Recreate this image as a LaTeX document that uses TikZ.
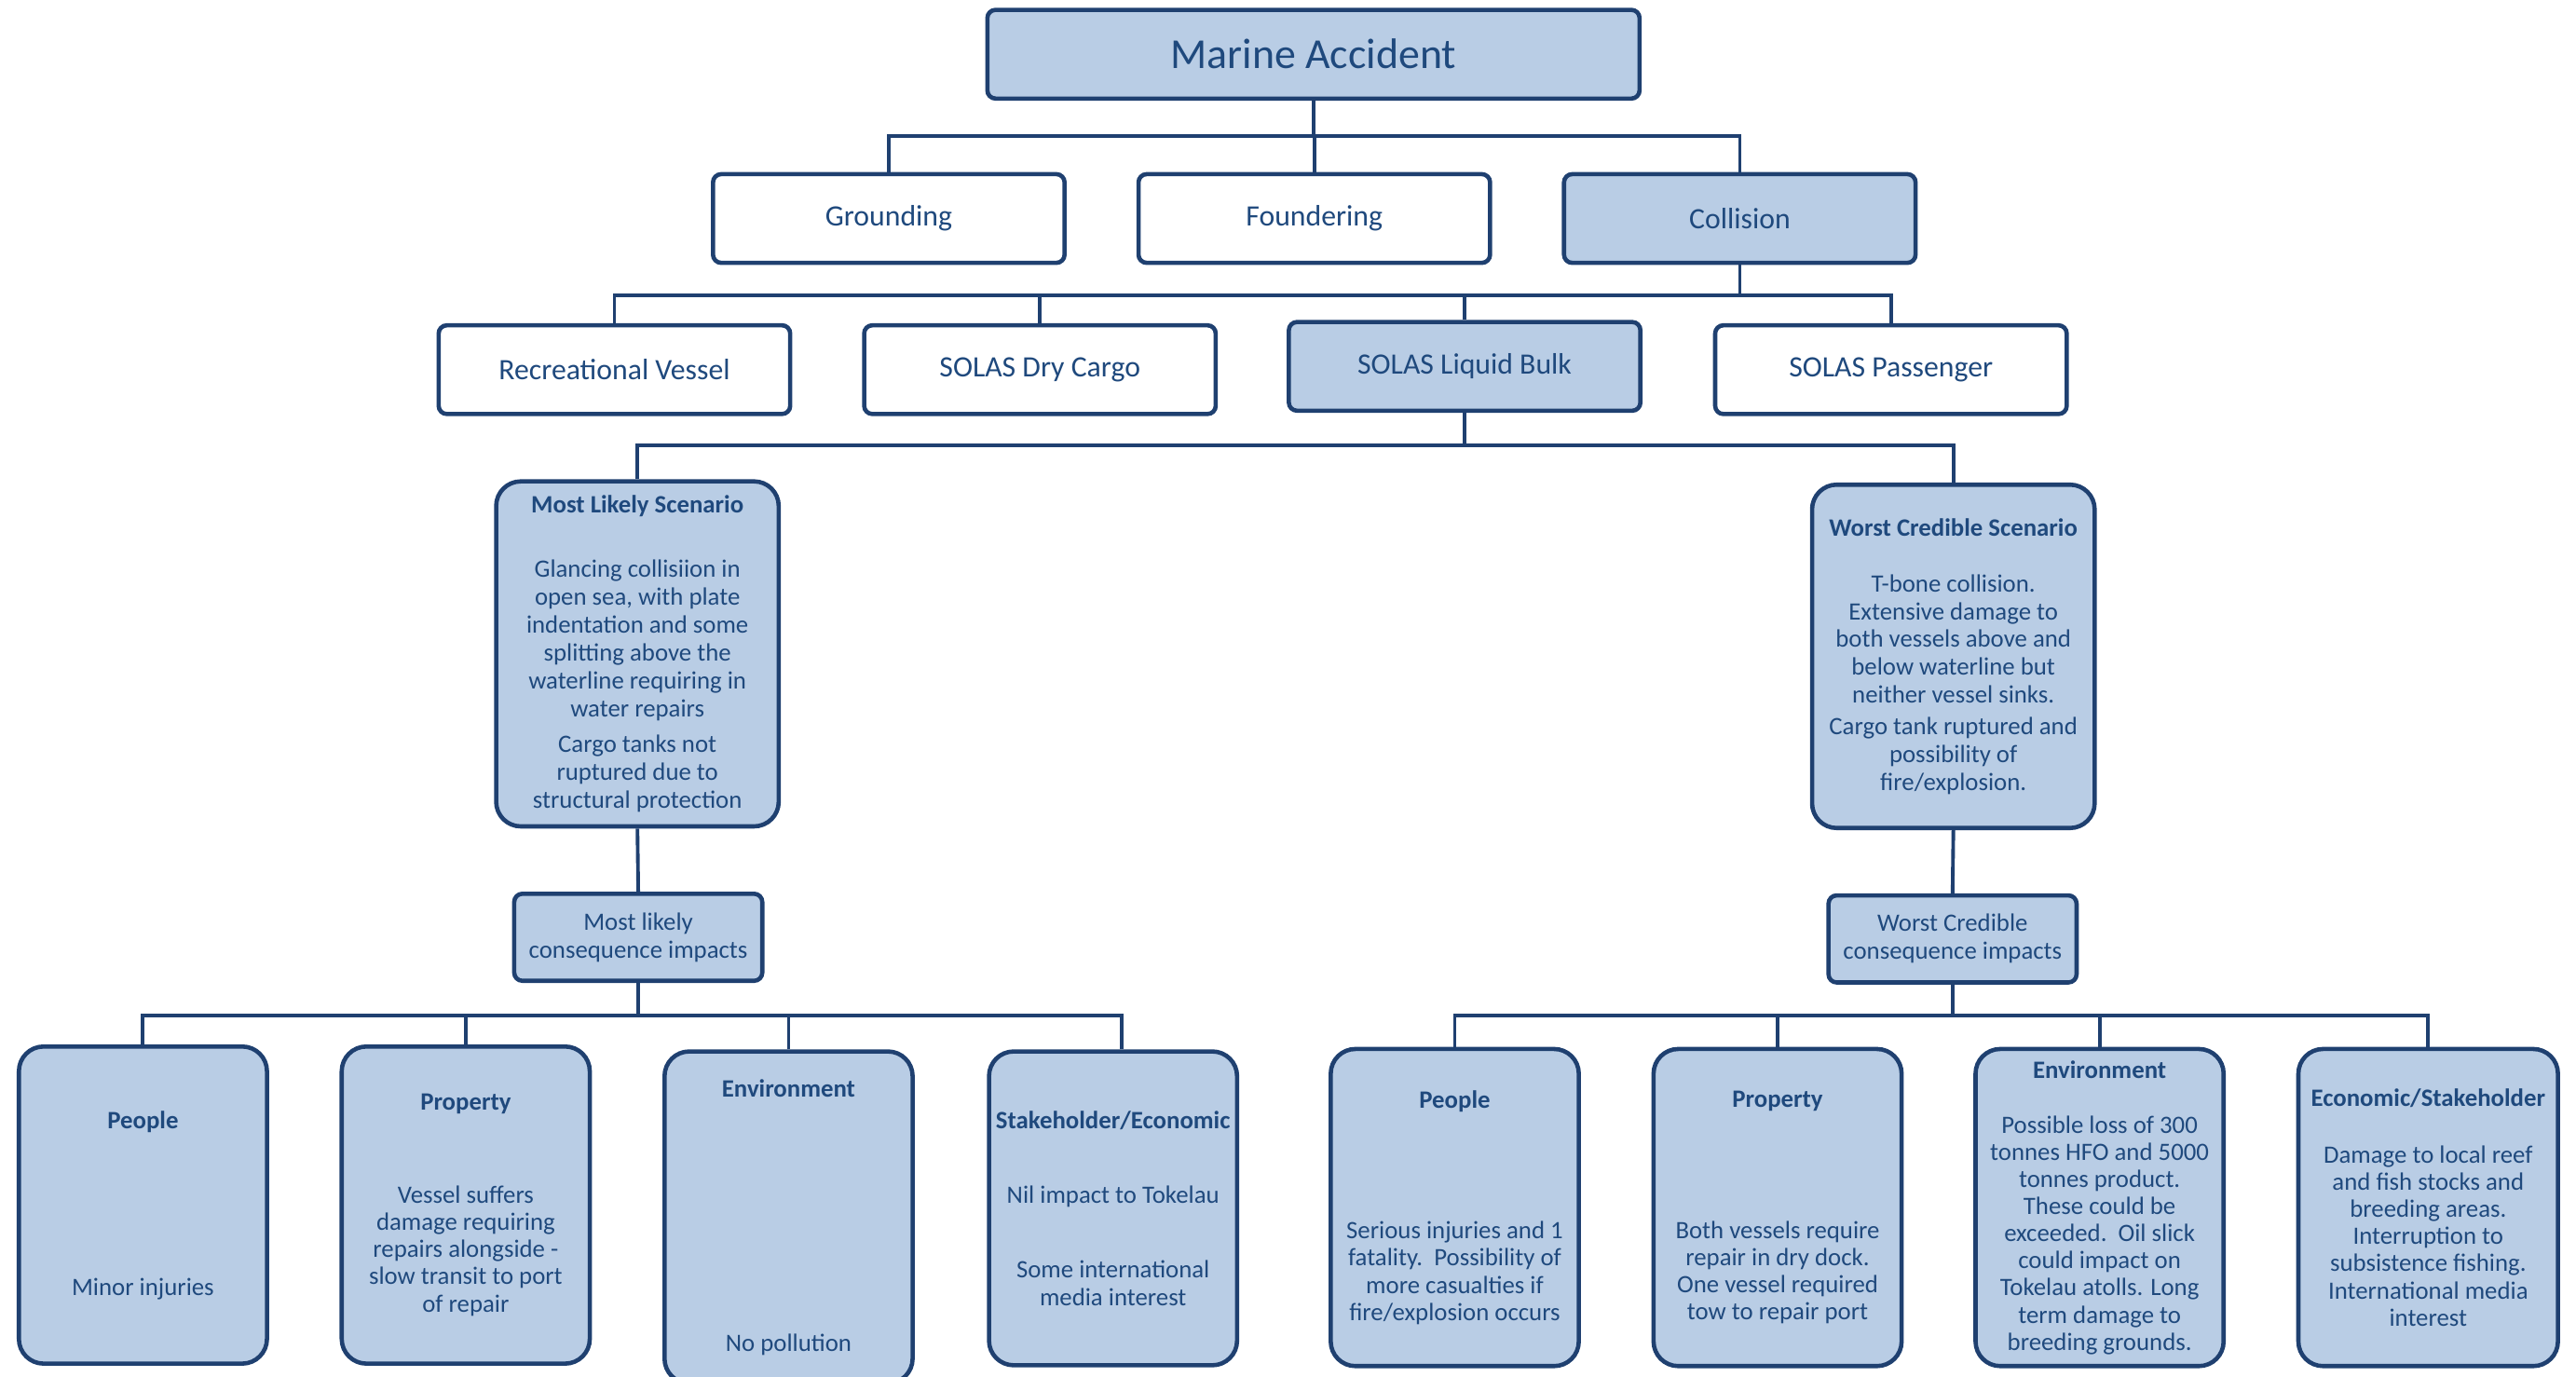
\documentclass[tikz,border=0pt]{standalone}
\usepackage{fontspec}
\setmainfont{Carlito}
\definecolor{boxline}{HTML}{1F4070}
\definecolor{boxfill}{HTML}{B9CDE5}
\definecolor{inktext}{HTML}{1F497D}
\tikzset{
  topbox/.style={draw=boxline,line width=2.6pt,rounded corners=5pt,text=inktext,fill=white,
    minimum width=214pt,minimum height=54pt,inner sep=2pt,font=\fontsize{18}{21}\selectfont},
  scenbox/.style={draw=boxline,line width=2.6pt,rounded corners=15pt,text=inktext,fill=boxfill,
    align=center,inner sep=2pt,font=\fontsize{15.2}{17}\selectfont},
  consbox/.style={scenbox,rounded corners=5pt,minimum width=151pt,minimum height=53pt},
  impbox/.style={scenbox,minimum width=151pt,minimum height=193pt,font=\fontsize{15.2}{16.5}\selectfont},
  link/.style={draw=boxline,line width=2.2pt}
}
\begin{document}
\begin{tikzpicture}[x=1pt,y=-1pt]
      \useasboundingbox (0,0) rectangle (1568,838);
      \node[topbox,fill=boxfill,minimum width=397pt,font=\fontsize{26}{30}\selectfont] (acc) at (799.5,33) {Marine Accident};
      \node[topbox] (gro) at (541,133) {Grounding};
      \node[topbox] (fou) at (800,133) {Foundering};
      \node[topbox,fill=boxfill] (col) at (1059,133) {Collision};
      \node[topbox] (rec) at (374,225) {Recreational Vessel};
      \node[topbox] (dry) at (633,225) {SOLAS Dry Cargo};
      \node[topbox,fill=boxfill] (liq) at (891.5,223) {SOLAS Liquid Bulk};
      \node[topbox] (pas) at (1151,225) {SOLAS Passenger};
      \node[scenbox,minimum width=172pt,minimum height=210pt] (mls) at (388,398) {\textbf{Most Likely Scenario}\\[22pt]Glancing collisiion in\\open sea, with plate\\indentation and some\\splitting above the\\waterline requiring in\\water repairs\\[5pt]Cargo tanks not\\ruptured due to\\structural protection};
      \node[scenbox,minimum width=172pt,minimum height=209pt] (wcs) at (1189,399.5) {\textbf{Worst Credible Scenario}\\[17pt]T-bone collision.\\Extensive damage to\\both vessels above and\\below waterline but\\neither vessel sinks.\\[2pt]Cargo tank ruptured and\\possibility of\\fire/explosion.};
      \node[consbox] (mlc) at (388.5,570.5) {Most likely\\consequence impacts};
      \node[consbox] (wcc) at (1188.5,571.5) {Worst Credible\\consequence impacts};
      \node[impbox] (lpeo) at (87,733.5) {\textbf{People}\\[85pt]Minor injuries};
      \node[impbox] (lpro) at (283.5,733.5) {\textbf{Property}\\[40pt]Vessel suffers\\damage requiring\\repairs alongside -\\slow transit to port\\of repair};
      \node[impbox,minimum height=202pt] (lenv) at (480,741) {\textbf{Environment}\\[138pt]No pollution};
      \node[impbox,minimum height=191pt] (lsta) at (677.5,735.5) {\textbf{Stakeholder/Economic}\\[29pt]Nil impact to Tokelau\\[29pt]Some international\\media interest};
      \node[impbox] (rpeo) at (885.5,735) {\textbf{People}\\[63pt]Serious injuries and 1\\fatality.\ \ Possibility of\\more casualties if\\fire/explosion occurs};
      \node[impbox] (rpro) at (1082,735) {\textbf{Property}\\[63pt]Both vessels require\\repair in dry dock.\\One vessel required\\tow to repair port};
      \node[impbox] (renv) at (1278,735) {\textbf{Environment}\\[17pt]Possible loss of 300\\tonnes HFO and 5000\\tonnes product.\\These could be\\exceeded.\ \ Oil slick\\could impact on\\Tokelau atolls. Long\\term damage to\\breeding grounds.};
      \node[impbox,minimum width=158pt] (reco) at (1478,735) {\textbf{Economic/Stakeholder}\\[18pt]Damage to local reef\\and fish stocks and\\breeding areas.\\Interruption to\\subsistence fishing.\\International media\\interest};
      \coordinate (bus1) at (799.5,83);
      \coordinate (bus2) at (1059,180);
      \coordinate (bus3) at (891.5,271);
      \coordinate (lbus) at (388.5,618);
      \coordinate (rbus) at (1188.5,618);
      \draw[link] (acc.south) -- (bus1);
      \draw[link] (gro.north) |- (bus1) -| (col.north);
      \draw[link] (fou.north) -- (fou.north |- bus1);
      \draw[link] (col.south) -- (bus2);
      \draw[link] (rec.north) |- (bus2) -| (pas.north);
      \draw[link] (dry.north) -- (dry.north |- bus2);
      \draw[link] (liq.north) -- (liq.north |- bus2);
      \draw[link] (liq.south) -- (bus3);
      \draw[link] (mls.north) |- (bus3) -| (wcs.north);
      \draw[link] (mls.south) -- (mlc.north);
      \draw[link] (wcs.south) -- (wcc.north);
      \draw[link] (mlc.south) -- (lbus);
      \draw[link] (lpeo.north) |- (lbus) -| ([xshift=5.5pt]lsta.north);
      \foreach \b in {lpro,lenv}
        \draw[link] (\b.north) -- (\b.north |- lbus);
      \draw[link] (wcc.south) -- (rbus);
      \draw[link] (rpeo.north) |- (rbus) -| (reco.north);
      \foreach \b in {rpro,renv}
        \draw[link] (\b.north) -- (\b.north |- rbus);
\end{tikzpicture}
\end{document}
